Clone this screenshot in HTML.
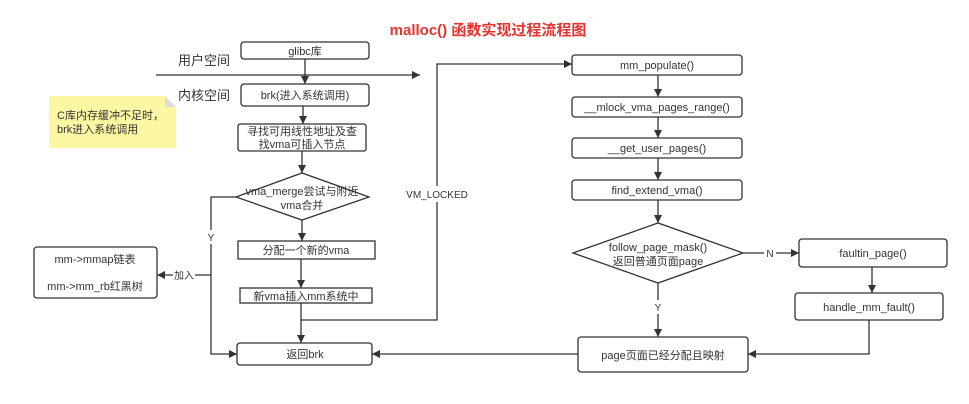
<!DOCTYPE html>
<html><head><meta charset="utf-8"><style>
html,body{margin:0;padding:0;background:#fff;}
svg{display:block;}
text{font-family:"Liberation Sans","Noto Sans CJK SC",sans-serif;fill:#333;}
</style></head><body>
<svg width="969" height="404" viewBox="0 0 969 404" xmlns="http://www.w3.org/2000/svg">
<defs>
<marker id="a" viewBox="0 0 10 10" refX="10" refY="5" markerWidth="8" markerHeight="8" orient="auto" markerUnits="userSpaceOnUse"><path d="M0,0 L10,5 L0,10 z" fill="#333"/></marker>
</defs>
<g stroke="#333" stroke-width="1.3" fill="#fff">
<!-- left boxes -->
<rect x="241" y="42" width="128" height="17" rx="3"/>
<rect x="241" y="84" width="128" height="22" rx="3"/>
<rect x="238" y="124" width="128" height="27" rx="2"/>
<polygon points="236,197 302,173 369,197 302,220"/>
<rect x="238" y="241" width="137" height="18"/>
<rect x="240" y="288" width="132" height="15"/>
<rect x="237" y="343" width="135" height="22" rx="3"/>
<rect x="34" y="247" width="123" height="51" rx="3"/>
<!-- right boxes -->
<rect x="572" y="55" width="170" height="20" rx="3"/>
<rect x="572" y="97" width="170" height="20" rx="3"/>
<rect x="572" y="138" width="170" height="20" rx="3"/>
<rect x="572" y="180" width="170" height="20" rx="3"/>
<polygon points="573,253 658,223 743,253 658,283"/>
<rect x="799" y="239" width="148" height="28" rx="3"/>
<rect x="795" y="293" width="148" height="27" rx="3"/>
<rect x="578" y="337" width="170" height="35" rx="3"/>
</g>
<!-- note -->
<polygon points="49,96 165,96 176,107 176,148 49,148" fill="#fbf7a2"/>
<polygon points="165,96 176,107 165,107" fill="#ddd"/>
<g stroke="#333" stroke-width="1.3" fill="none" marker-end="url(#a)">
<line x1="156" y1="75" x2="420" y2="75"/>
<line x1="305" y1="59" x2="305" y2="84"/>
<line x1="303" y1="106" x2="303" y2="124"/>
<line x1="302" y1="151" x2="302" y2="173"/>
<line x1="302" y1="220" x2="302" y2="241"/>
<line x1="301" y1="259" x2="301" y2="288"/>
<line x1="301" y1="303" x2="301" y2="343"/>
<polyline points="236,197 211,197 211,354 237,354"/>
<line x1="211" y1="275" x2="157" y2="275"/>
<polyline points="301,320 437,320 437,64 572,64"/>
<line x1="658" y1="75" x2="658" y2="97"/>
<line x1="658" y1="117" x2="658" y2="138"/>
<line x1="658" y1="158" x2="658" y2="180"/>
<line x1="658" y1="200" x2="658" y2="223"/>
<line x1="658" y1="283" x2="658" y2="337"/>
<line x1="743" y1="253" x2="799" y2="253"/>
<line x1="872" y1="267" x2="872" y2="293"/>
<polyline points="869,320 869,354 748,354"/>
<line x1="578" y1="354" x2="372" y2="354"/>
</g>
<!-- label backgrounds -->
<rect x="205" y="230" width="12" height="14" fill="#fff"/>
<rect x="173" y="268" width="22" height="14" fill="#fff"/>
<rect x="406" y="186" width="62" height="16" fill="#fff"/>
<rect x="764" y="246" width="12" height="14" fill="#fff"/>
<rect x="652" y="300" width="12" height="14" fill="#fff"/>
<text x="488" y="35" font-size="15" font-weight="bold" text-anchor="middle" style="fill:#e8322e">malloc() 函数实现过程流程图</text>
<g font-size="11" text-anchor="middle">
<text x="305" y="55">glibc库</text>
<text x="305" y="99">brk(进入系统调用)</text>
<text x="302" y="135">寻找可用线性地址及查</text>
<text x="302" y="148">找vma可插入节点</text>
<text x="302" y="195">vma_merge尝试与附近</text>
<text x="302" y="209">vma合并</text>
<text x="306" y="254">分配一个新的vma</text>
<text x="306" y="300">新vma插入mm系统中</text>
<text x="305" y="358">返回brk</text>
<text x="95" y="263">mm-&gt;mmap链表</text>
<text x="95" y="290">mm-&gt;mm_rb红黑树</text>
<text x="657" y="69">mm_populate()</text>
<text x="657" y="111">__mlock_vma_pages_range()</text>
<text x="657" y="152">__get_user_pages()</text>
<text x="657" y="194">find_extend_vma()</text>
<text x="658" y="251">follow_page_mask()</text>
<text x="658" y="265">返回普通页面page</text>
<text x="873" y="257">faultin_page()</text>
<text x="869" y="311">handle_mm_fault()</text>
<text x="663" y="359">page页面已经分配且映射</text>
</g>
<g font-size="13">
<text x="178" y="65">用户空间</text>
<text x="178" y="100">内核空间</text>
</g>
<g font-size="11">
<text x="57" y="119">C库内存缓冲不足时，</text>
<text x="57" y="133">brk进入系统调用</text>
</g>
<g font-size="10" text-anchor="middle">
<text x="211" y="241">Y</text>
<text x="184" y="279">加入</text>
<text x="437" y="198">VM_LOCKED</text>
<text x="770" y="257">N</text>
<text x="658" y="311">Y</text>
</g>
</svg>
</body></html>
